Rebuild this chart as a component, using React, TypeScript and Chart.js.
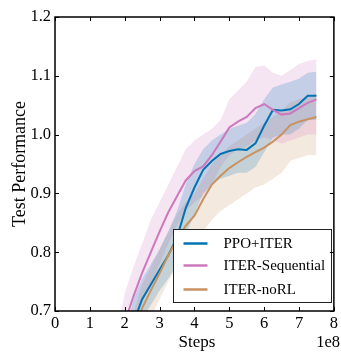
import React, { useEffect, useRef } from "react";
import { Chart, registerables } from "chart.js";
Chart.register(...registerables);

// x values in units of 1e8 steps
const steps = [1.75, 2.0, 2.25, 2.5, 2.75, 3.0, 3.25, 3.5, 3.75, 4.0, 4.25, 4.5, 4.75, 5.0, 5.25, 5.5, 5.75, 6.0, 6.25, 6.5, 6.75, 7.0, 7.25, 7.5];

const ppoIter = [0.58, 0.62, 0.68, 0.72, 0.745, 0.77, 0.795, 0.825, 0.875, 0.91, 0.94, 0.955, 0.967, 0.972, 0.975, 0.974, 0.985, 1.015, 1.042, 1.041, 1.043, 1.052, 1.066, 1.066];
const ppoIterUpper = [0.62, 0.66, 0.72, 0.755, 0.78, 0.805, 0.835, 0.87, 0.915, 0.95, 0.975, 0.99, 1.0, 1.01, 1.015, 1.02, 1.035, 1.06, 1.08, 1.085, 1.09, 1.095, 1.105, 1.107];
const ppoIterLower = [0.54, 0.58, 0.64, 0.685, 0.71, 0.735, 0.755, 0.78, 0.83, 0.865, 0.9, 0.915, 0.925, 0.93, 0.935, 0.935, 0.945, 0.97, 0.995, 1.0, 1.0, 1.01, 1.025, 1.025];

const iterSeq = [0.6, 0.68, 0.725, 0.765, 0.8, 0.835, 0.868, 0.895, 0.922, 0.938, 0.946, 0.965, 0.988, 1.012, 1.022, 1.03, 1.045, 1.052, 1.042, 1.034, 1.036, 1.045, 1.054, 1.06];
const iterSeqUpper = [0.66, 0.73, 0.775, 0.815, 0.855, 0.885, 0.915, 0.945, 0.975, 0.99, 1.0, 1.01, 1.025, 1.06, 1.075, 1.09, 1.115, 1.118, 1.105, 1.1, 1.11, 1.12, 1.125, 1.128];
const iterSeqLower = [0.55, 0.63, 0.675, 0.715, 0.745, 0.78, 0.815, 0.845, 0.87, 0.885, 0.895, 0.915, 0.945, 0.965, 0.975, 0.98, 0.99, 0.995, 0.99, 0.985, 0.99, 0.995, 1.0, 1.0];

const iterNoRL = [0.56, 0.6, 0.65, 0.705, 0.735, 0.764, 0.795, 0.822, 0.845, 0.862, 0.89, 0.915, 0.93, 0.943, 0.953, 0.962, 0.97, 0.978, 0.988, 1.0, 1.016, 1.022, 1.026, 1.03];
const iterNoRLUpper = [0.6, 0.645, 0.695, 0.745, 0.775, 0.805, 0.835, 0.865, 0.885, 0.9, 0.925, 0.95, 0.965, 0.98, 0.99, 1.0, 1.01, 1.02, 1.03, 1.04, 1.055, 1.06, 1.065, 1.07];
const iterNoRLLower = [0.51, 0.55, 0.6, 0.655, 0.69, 0.72, 0.75, 0.775, 0.795, 0.815, 0.835, 0.855, 0.87, 0.88, 0.89, 0.9, 0.91, 0.915, 0.925, 0.935, 0.955, 0.96, 0.965, 0.965];

const seriesLabels = ["PPO+ITER", "ITER-Sequential", "ITER-noRL"];
const seriesColors = ["#0173B2", "#CC78BC", "#CA9161"];
const bandColors = ["rgba(1,115,178,0.2)", "rgba(204,120,188,0.2)", "rgba(202,145,97,0.2)"];

const xTicks = [0, 1, 2, 3, 4, 5, 6, 7, 8];
const yTicks = [0.7, 0.8, 0.9, 1.0, 1.1, 1.2];

const FONT = "'Liberation Serif', 'Times New Roman', serif";

function pts(ys: number[]) {
  return ys.map((y, i) => ({ x: steps[i], y }));
}

const framePlugin = {
  id: "frame",
  afterDatasetsDraw(chart: any) {
    const { ctx, chartArea: a } = chart;
    // legend box
    const bw = 158, bh = 73;
    const bx = Math.round(a.right - 3 - bw) + 0.5;
    const by = Math.round(a.bottom - 9 - bh) + 0.5;
    ctx.save();
    ctx.fillStyle = "#ffffff";
    ctx.fillRect(bx, by, bw, bh);
    ctx.strokeStyle = "#222";
    ctx.lineWidth = 1;
    ctx.strokeRect(bx, by, bw, bh);
    ctx.font = `15px ${FONT}`;
    ctx.textBaseline = "middle";
    ctx.textAlign = "left";
    const rows = [14, 36, 60];
    seriesLabels.forEach((lab, i) => {
      const y = by + rows[i];
      ctx.strokeStyle = seriesColors[i];
      ctx.lineWidth = 2.5;
      ctx.beginPath();
      ctx.moveTo(bx + 10, y);
      ctx.lineTo(bx + 34, y);
      ctx.stroke();
      ctx.fillStyle = "#000";
      ctx.fillText(lab, bx + 50, y + 1);
    });
    ctx.restore();
  },
  afterDraw(chart: any) {
    const { ctx, chartArea: a, scales } = chart;
    ctx.save();
    ctx.strokeStyle = "#000";
    ctx.lineWidth = 1;
    const tl = 4;
    xTicks.forEach((v) => {
      const px = Math.round(scales.x.getPixelForValue(v)) + 0.5;
      ctx.beginPath();
      ctx.moveTo(px, a.bottom);
      ctx.lineTo(px, a.bottom - tl);
      ctx.moveTo(px, a.top);
      ctx.lineTo(px, a.top + tl);
      ctx.stroke();
    });
    yTicks.forEach((v) => {
      const py = Math.round(scales.y.getPixelForValue(v)) + 0.5;
      ctx.beginPath();
      ctx.moveTo(a.left, py);
      ctx.lineTo(a.left + tl, py);
      ctx.moveTo(a.right, py);
      ctx.lineTo(a.right - tl, py);
      ctx.stroke();
    });
    ctx.lineWidth = 1.5;
    ctx.strokeRect(a.left, a.top, a.right - a.left, a.bottom - a.top);
    // titles
    ctx.fillStyle = "#000";
    ctx.font = `17px ${FONT}`;
    ctx.textAlign = "center";
    ctx.textBaseline = "middle";
    ctx.fillText("Steps", 197, 343);
    ctx.textAlign = "right";
    ctx.font = `16.5px ${FONT}`;
    ctx.fillText("1e8", 340, 343);
    ctx.font = `18px ${FONT}`;
    ctx.translate(20, (a.top + a.bottom) / 2);
    ctx.rotate(-Math.PI / 2);
    ctx.textAlign = "center";
    ctx.fillText("Test Performance", 0, 0);
    ctx.restore();
  },
};

export default function App() {
  const ref = useRef<HTMLCanvasElement | null>(null);
  useEffect(() => {
    if (!ref.current) return;
    const mains = [ppoIter, iterSeq, iterNoRL];
    const uppers = [ppoIterUpper, iterSeqUpper, iterNoRLUpper];
    const lowers = [ppoIterLower, iterSeqLower, iterNoRLLower];
    const datasets: any[] = [];
    mains.forEach((m, i) => {
      datasets.push({
        label: seriesLabels[i],
        data: pts(m),
        borderColor: seriesColors[i],
        borderWidth: 2,
        pointRadius: 0,
        fill: false,
        tension: 0,
        order: 3 - i,
      });
    });
    uppers.forEach((u, i) => {
      const idx = datasets.length;
      datasets.push({
        label: seriesLabels[i] + " upper",
        data: pts(u),
        borderWidth: 0,
        borderColor: "rgba(0,0,0,0)",
        pointRadius: 0,
        backgroundColor: bandColors[i],
        fill: idx + 1,
        order: 10 + i,
      });
      datasets.push({
        label: seriesLabels[i] + " lower",
        data: pts(lowers[i]),
        borderWidth: 0,
        borderColor: "rgba(0,0,0,0)",
        pointRadius: 0,
        fill: false,
        order: 10 + i,
      });
    });
    const chart = new Chart(ref.current, {
      type: "line",
      data: { datasets },
      options: {
        animation: false,
        responsive: false,
        layout: { padding: { left: 0, top: 17, right: 6, bottom: 0 } },
        plugins: { legend: { display: false }, tooltip: { enabled: false } },
        scales: {
          x: {
            type: "linear",
            min: 0,
            max: 8,
            grid: { display: false, drawTicks: false },
            border: { display: false },
            afterBuildTicks: (s: any) => {
              s.ticks = xTicks.map((v) => ({ value: v }));
            },
            afterFit: (s: any) => {
              s.height = 41;
            },
            ticks: {
              padding: 3,
              color: "#000",
              font: { family: FONT, size: 16.5 },
              maxRotation: 0,
              callback: (v: any) => String(v),
            },
          },
          y: {
            type: "linear",
            min: 0.7,
            max: 1.2,
            grid: { display: false, drawTicks: false },
            border: { display: false },
            afterBuildTicks: (s: any) => {
              s.ticks = yTicks.map((v) => ({ value: v }));
            },
            afterFit: (s: any) => {
              s.width = 55;
            },
            ticks: {
              padding: 4,
              color: "#000",
              font: { family: FONT, size: 16.5 },
              callback: (v: any) => Number(v).toFixed(1),
            },
          },
        },
      },
      plugins: [framePlugin],
    });
    return () => chart.destroy();
  }, []);
  return (
    <div style={{ position: "fixed", left: 0, top: 0, width: 341, height: 352, background: "#fff" }}>
      <canvas ref={ref} width={341} height={352} style={{ width: 341, height: 352 }} />
    </div>
  );
}
